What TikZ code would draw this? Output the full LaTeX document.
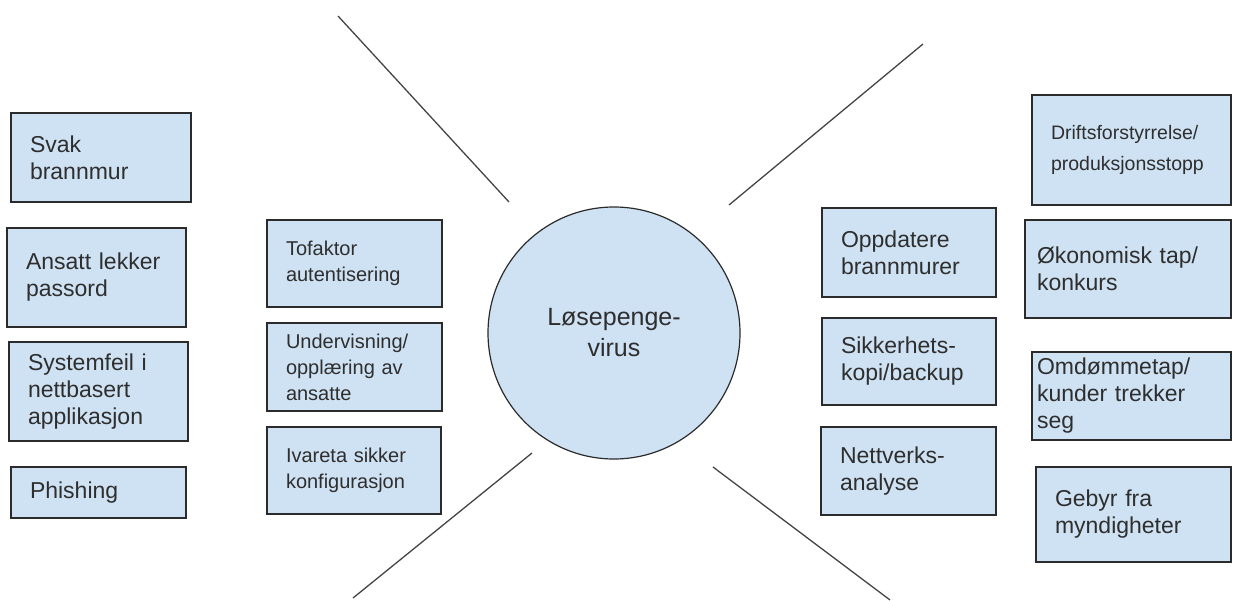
\documentclass[tikz,border=0pt]{standalone}
\usepackage{fontspec}
\setmainfont{Liberation Sans}
\usepackage{tikz}
\definecolor{boxfill}{HTML}{CFE2F3}
\definecolor{boxline}{HTML}{2B2B2B}
\definecolor{textgray}{HTML}{2E2E2E}
\definecolor{spokegray}{HTML}{444444}
\newcommand{\boxfont}{\fontsize{23}{27}\selectfont}
\newcommand{\smallboxfont}{\fontsize{20}{26}\selectfont}
\newcommand{\tinyboxfont}{\fontsize{19.5}{31}\selectfont}
\newcommand{\circfont}{\fontsize{25}{31}\selectfont}
\tikzset{box/.style={draw=boxline,fill=boxfill,line width=1.2pt,rectangle,
  align=left,inner xsep=19pt,inner ysep=0pt,text=textgray,font=\boxfont}}
\tikzset{smallbox/.style={box,font=\smallboxfont}}
\tikzset{spoke/.style={draw=spokegray,line width=1.3pt}}

\begin{document}
\begin{tikzpicture}[x=1pt,y=-1pt]
      \useasboundingbox (0,0) rectangle (1233,601);
      \node [circle,draw=boxline,fill=boxfill,line width=1.2pt,minimum size=252,inner sep=0pt,
        align=center,text=textgray,font=\circfont] (virus) at (614,333) {Løsepenge-\\virus};
      \coordinate (tlout) at (338,16);
      \coordinate (tlin) at (509,202);
      \coordinate (trout) at (923,44);
      \coordinate (trin) at (729,205);
      \coordinate (blin) at (532,453);
      \coordinate (blout) at (353,598);
      \coordinate (brin) at (713,467);
      \coordinate (brout) at (890,600);
      \draw [spoke] (tlout) -- (tlin);
      \draw [spoke] (trout) -- (trin);
      \draw [spoke] (blin) -- (blout);
      \draw [spoke] (brin) -- (brout);
      \node [box,text width=142,minimum height=89] (svak) at (101,157.5) {Svak\\brannmur};
      \node [box,text width=141,minimum height=99] (ansatt) at (96.5,277.5) {Ansatt lekker\\passord};
      \node [box,text width=141,minimum height=99] (systemfeil) at (98.5,391.5) {Systemfeil i\\nettbasert\\applikasjon};
      \node [box,text width=137,minimum height=51] (phishing) at (98.5,492.5) {Phishing};
      \node [smallbox,text width=137,minimum height=87] (tofaktor) at (354.5,263.5) {Tofaktor\\autentisering};
      \node [smallbox,text width=137,minimum height=88] (undervisning) at (354.5,367) {Undervisning/\\opplæring av\\ansatte};
      \node [smallbox,text width=136,minimum height=87] (ivareta) at (354,470.5) {Ivareta sikker\\konfigurasjon};
      \node [box,text width=136,minimum height=89] (oppdatere) at (909,252.5) {Oppdatere\\brannmurer};
      \node [box,text width=136,minimum height=87] (sikkerhet) at (909,361.5) {Sikkerhets-\\kopi/backup};
      \node [box,text width=137,minimum height=88] (nettverk) at (908.5,471) {Nettverks-\\analyse};
      \node [box,font=\tinyboxfont,text width=161,minimum height=110] (drift) at (1131.5,150) {Driftsforstyrrelse/\\produksjonsstopp};
      \node [box,inner xsep=12pt,text width=182,minimum height=98] (okonomi) at (1128,269) {Økonomisk tap/\\konkurs};
      \node [box,inner xsep=5pt,text width=189,minimum height=88] (omdomme) at (1131.5,396) {Omdømmetap/\\kunder trekker\\seg};
      \node [box,text width=157,minimum height=95] (gebyr) at (1133.5,514.5) {Gebyr fra\\myndigheter};
\end{tikzpicture}
\end{document}
